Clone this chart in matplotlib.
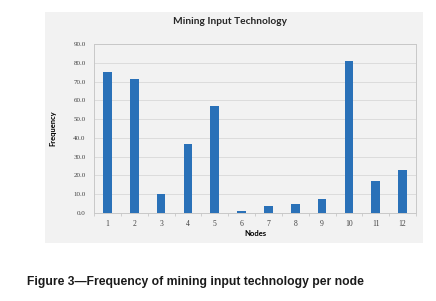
import matplotlib.pyplot as plt
import numpy as np

nodes = ['1', '2', '3', '4', '5', '6', '7', '8', '9', '10', '11', '12']
frequency = [75.2, 71.4, 10.0, 36.9, 57.0, 1.0, 3.6, 4.8, 7.2, 81.2, 17.0, 22.7]
yticks = [0, 10, 20, 30, 40, 50, 60, 70, 80, 90]

W, H = 436, 301
fig = plt.figure(figsize=(W / 100, H / 100), dpi=100)
fig.patch.set_facecolor('white')

# grey chart panel behind the plot
bg = fig.add_axes([45 / W, 1 - 243 / H, (423 - 45) / W, (243 - 12) / H], zorder=0)
bg.set_facecolor('#f2f2f2')
bg.set_xticks([])
bg.set_yticks([])
for s in bg.spines.values():
    s.set_visible(False)

ax = fig.add_axes([94 / W, 1 - 212.7 / H, (416 - 94) / W, (212.7 - 44.3) / H], zorder=1)
ax.set_facecolor('#f2f2f2')
x = np.arange(len(nodes))
ax.bar(x, frequency, width=0.32, color='#2a71b8', zorder=3)

ax.set_xlim(-0.5, len(nodes) - 0.5)
ax.set_ylim(0, 90)
ax.set_yticks(yticks)
ax.set_yticklabels(['%.1f' % v for v in yticks], fontsize=5, color='#404040',
                   family='Liberation Serif')
ax.set_xticks(x)
ax.set_xticklabels(nodes, fontsize=5.5, color='#404040', family='Liberation Serif')
ax.set_xticks(np.arange(-0.5, len(nodes)), minor=True)
ax.tick_params(axis='x', which='major', length=0, pad=5)
ax.tick_params(axis='x', which='minor', length=2, color='#c8c8c8')
ax.tick_params(axis='y', length=0, pad=6)
ax.grid(axis='y', color='#dcdcdc', linewidth=0.7, zorder=0)
for s in ax.spines.values():
    s.set_color('#c8c8c8')
    s.set_linewidth(0.7)

ax.set_xlabel('Nodes', fontsize=5.5, fontweight='bold', labelpad=2, family='Lato')
ax.set_ylabel('Frequency', fontsize=5.5, fontweight='bold', labelpad=12, family='Lato')

fig.text(230 / W, 1 - 21 / H, 'Mining Input Technology', ha='center', va='center',
         fontsize=7.3, fontweight='bold', family='Lato', color='#262626')

fig.text(27 / W, 1 - 282 / H, 'Figure 3\u2014Frequency of mining input technology per node',
         ha='left', va='center', fontsize=8.7, fontweight='bold',
         family='Liberation Sans', color='#1a1a1a')

fig.savefig('out.png', dpi=100)
